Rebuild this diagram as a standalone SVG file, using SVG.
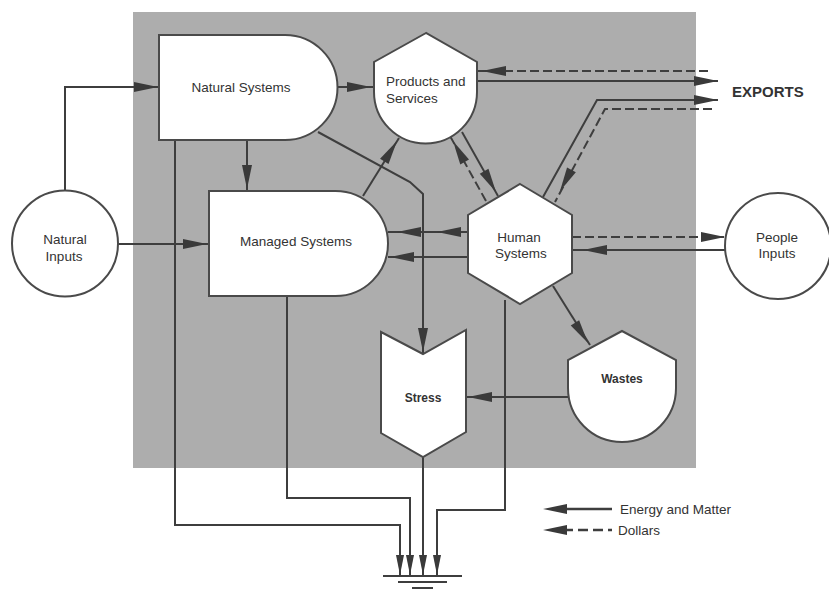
<svg xmlns="http://www.w3.org/2000/svg" xmlns:xlink="http://www.w3.org/1999/xlink" width="829" height="589" viewBox="0 0 829 589">
<style>
.node{fill:#ffffff;stroke:#4a4a4a;stroke-width:2}
.lbl{font-family:"Liberation Sans",Arial,sans-serif;font-size:13.5px;fill:#333;dominant-baseline:central}
.bl{font-family:"Liberation Sans",Arial,sans-serif;font-size:12px;font-weight:bold;fill:#333;dominant-baseline:central}
.em{fill:none;stroke:#3e3e3e;stroke-width:2}
.dl{fill:none;stroke:#3e3e3e;stroke-width:2;stroke-dasharray:9 4}
.ah{fill:#3a3a3a}
</style>
<defs>
<polygon id="ah" points="0,0 -24,-5 -24,5"/>
<polygon id="ahs" points="0,0 -20,-4 -20,4"/>
</defs>
<rect x="0" y="0" width="829" height="589" fill="#ffffff"/>
<rect x="133" y="12" width="563" height="456" fill="#adadad"/>

<g id="connectors">
  <!-- energy & matter -->
  <path class="em" d="M65,190 V87 H159"/>
  <path class="em" d="M117,244 H209"/>
  <path class="em" d="M337,87 H374"/>
  <path class="em" d="M247,140 V191"/>
  <path class="em" d="M318,132 L410,182 L423,194 V354"/>
  <path class="em" d="M363,196 L399,138"/>
  <path class="em" d="M462,132 L498,196"/>
  <path class="em" d="M477,81 H718"/>
  <path class="em" d="M543,197 L597,100 H718"/>
  <path class="em" d="M726,250 H572"/>
  <path class="em" d="M468,232 H388"/>
  <path class="em" d="M468,257 H388"/>
  <path class="em" d="M553,286 L590,345"/>
  <path class="em" d="M568,397 H466"/>
  <path class="em" d="M505,300 V510 H437 V575"/>
  <path class="em" d="M423,457 V575"/>
  <path class="em" d="M287,296 V498 H410 V575"/>
  <path class="em" d="M175,140 V525 H400 V575"/>
  <!-- dollars -->
  <path class="dl" d="M486,201 L450,136"/>
  <path class="dl" d="M708,71 H477"/>
  <path class="dl" d="M712,109 H605 L555,202"/>
  <path class="dl" d="M572,237 H726"/>
  <!-- arrowheads -->
  <g class="ah">
    <use xlink:href="#ah" transform="translate(158,87)"/>
    <use xlink:href="#ah" transform="translate(207,244)"/>
    <use xlink:href="#ah" transform="translate(371,87)"/>
    <use xlink:href="#ah" transform="translate(247,189) rotate(90)"/>
    <use xlink:href="#ah" transform="translate(423,352) rotate(90)"/>
    <use xlink:href="#ah" transform="translate(397,141) rotate(-58)"/>
    <use xlink:href="#ah" transform="translate(496,192) rotate(60.3)"/>
    <use xlink:href="#ah" transform="translate(453,141) rotate(-119)"/>
    <use xlink:href="#ah" transform="translate(718,81)"/>
    <use xlink:href="#ah" transform="translate(482,71) rotate(180)"/>
    <use xlink:href="#ah" transform="translate(718,100)"/>
    <use xlink:href="#ah" transform="translate(560,191) rotate(118.5)"/>
    <use xlink:href="#ah" transform="translate(725,237)"/>
    <use xlink:href="#ah" transform="translate(583,250) rotate(180)"/>
    <use xlink:href="#ah" transform="translate(397,232) rotate(180)"/>
    <use xlink:href="#ah" transform="translate(437,232) rotate(180)"/>
    <use xlink:href="#ah" transform="translate(390,257) rotate(180)"/>
    <use xlink:href="#ah" transform="translate(588,343) rotate(57)"/>
    <use xlink:href="#ah" transform="translate(468,397) rotate(180)"/>
    <use xlink:href="#ahs" transform="translate(400,575) rotate(90)"/>
    <use xlink:href="#ahs" transform="translate(410,575) rotate(90)"/>
    <use xlink:href="#ahs" transform="translate(423,575) rotate(90)"/>
    <use xlink:href="#ahs" transform="translate(437,575) rotate(90)"/>
  </g>
</g>

<g id="natural-systems">
  <path class="node" d="M159,35 H285 A52.5,52.5 0 0 1 285,140 H159 Z"/>
  <text class="lbl" x="241" y="87" text-anchor="middle">Natural Systems</text>
</g>
<g id="products-services">
  <path class="node" d="M426,33 L374,62 L374,92 A51.5,51.5 0 0 0 477,92 L477,62 Z"/>
  <text class="lbl" x="386" y="81">Products and</text>
  <text class="lbl" x="386" y="98">Services</text>
</g>
<g id="natural-inputs">
  <circle class="node" cx="65" cy="243.5" r="53"/>
  <text class="lbl" x="65" y="239" text-anchor="middle">Natural</text>
  <text class="lbl" x="64" y="256" text-anchor="middle">Inputs</text>
</g>
<g id="managed-systems">
  <path class="node" d="M209,191 H335.5 A52.5,52.5 0 0 1 335.5,296 H209 Z"/>
  <text class="lbl" x="296" y="241" text-anchor="middle">Managed Systems</text>
</g>
<g id="human-systems">
  <polygon class="node" points="520,184 572,215 572,273 520,304 468,273 468,215"/>
  <text class="lbl" x="519" y="237" text-anchor="middle">Human</text>
  <text class="lbl" x="521" y="253" text-anchor="middle">Systems</text>
</g>
<g id="people-inputs">
  <circle class="node" cx="778" cy="246" r="53"/>
  <text class="lbl" x="777" y="237" text-anchor="middle">People</text>
  <text class="lbl" x="777" y="253" text-anchor="middle">Inputs</text>
</g>
<g id="stress">
  <polygon class="node" points="381,332 423,354 466,330 466,432 423,457 381,433"/>
  <text class="bl" x="423" y="398" text-anchor="middle">Stress</text>
</g>
<g id="wastes">
  <path class="node" d="M622,331 L568,360 L568,388 A54,54 0 0 0 676,388 L676,360 Z"/>
  <text class="bl" x="622" y="379" text-anchor="middle">Wastes</text>
</g>
<g id="sink">
  <line x1="383" y1="576" x2="462" y2="576" stroke="#3e3e3e" stroke-width="2"/>
  <line x1="398" y1="582" x2="447" y2="582" stroke="#3e3e3e" stroke-width="2"/>
  <line x1="412" y1="588" x2="433" y2="588" stroke="#3e3e3e" stroke-width="2"/>
</g>
<g id="exports">
  <text x="732" y="97" font-family="'Liberation Sans',Arial,sans-serif" font-size="15" font-weight="bold" fill="#333">EXPORTS</text>
</g>
<g id="legend">
  <line x1="560" y1="509" x2="612" y2="509" stroke="#3e3e3e" stroke-width="2.5"/>
  <use xlink:href="#ah" class="ah" transform="translate(543,509) rotate(180)"/>
  <line x1="563" y1="530" x2="612" y2="530" stroke="#3e3e3e" stroke-width="2.5" stroke-dasharray="10 5"/>
  <use xlink:href="#ah" class="ah" transform="translate(543,530) rotate(180)"/>
  <text class="lbl" x="620" y="509">Energy and Matter</text>
  <text class="lbl" x="618" y="530">Dollars</text>
</g>
</svg>
